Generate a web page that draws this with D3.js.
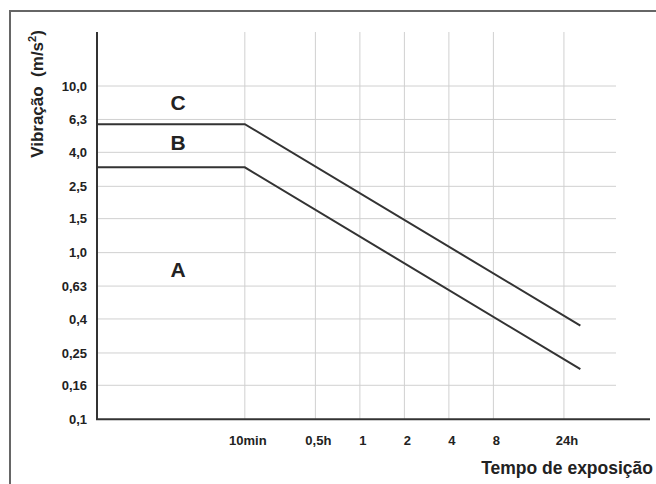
<!DOCTYPE html>
<html>
<head>
<meta charset="utf-8">
<script src="https://cdn.jsdelivr.net/npm/d3@7"></script>
<style>
  body { margin: 0; background: #fff; }
  svg text { font-family: "Liberation Sans", Arial, sans-serif; font-weight: bold; fill: #222; }
</style>
</head>
<body>
<svg width="656" height="484"></svg>
<script>
// tick values (hours) and their labels
const timeTicks = [1 / 6, 0.5, 1, 2, 4, 8, 24];
const timeLabels = ["10min", "0,5h", "1", "2", "4", "8", "24h"];

// vibration ticks (m/s²), evenly spaced on a log axis
const vibTicks = [0.1, 0.16, 0.25, 0.4, 0.63, 1.0, 1.6, 2.5, 4.0, 6.3, 10.0];
const vibLabels = ["0,1", "0,16", "0,25", "0,4", "0,63", "1,0", "1,5", "2,5", "4,0", "6,3", "10,0"];

// limit lines: time (h) -> vibration (m/s²)
const limitTimes = [1 / 60, 1 / 6, 31];
const upperLimit = [5.9, 5.9, 0.365];
const lowerLimit = [3.25, 3.25, 0.2];

// zone labels
const zoneNames = ["C", "B", "A"];
const zoneTime = [0.059, 0.059, 0.059];
const zoneVib = [7.9, 4.55, 0.79];

const svg = d3.select("svg");

// outer frame (runs off the right and bottom edge)
svg.append("rect")
    .attr("x", 10).attr("y", 11)
    .attr("width", 700).attr("height", 500)
    .attr("fill", "none")
    .attr("stroke", "#666")
    .attr("stroke-width", 2);

const plotLeft = 97, plotRight = 616, plotTop = 32, plotBottom = 419.3, yTop = 86;

const x = d3.scaleLog().domain([1 / 60, 54]).range([plotLeft, plotRight]);
const y = d3.scaleLog().domain([0.1, 10]).range([plotBottom, yTop]);

// grid
svg.append("g")
    .selectAll("line")
    .data(vibTicks.slice(1))
  .enter().append("line")
    .attr("x1", plotLeft).attr("x2", plotRight)
    .attr("y1", d => y(d)).attr("y2", d => y(d))
    .attr("stroke", "#d0d0d0")
    .attr("stroke-width", 1);

svg.append("g")
    .selectAll("line")
    .data(timeTicks)
  .enter().append("line")
    .attr("x1", d => x(d)).attr("x2", d => x(d))
    .attr("y1", plotTop).attr("y2", plotBottom)
    .attr("stroke", "#d0d0d0")
    .attr("stroke-width", 1);

// axes lines
svg.append("line")
    .attr("x1", plotLeft).attr("x2", plotLeft)
    .attr("y1", plotTop).attr("y2", plotBottom)
    .attr("stroke", "#333").attr("stroke-width", 2);
svg.append("line")
    .attr("x1", plotLeft - 1).attr("x2", 650)
    .attr("y1", plotBottom).attr("y2", plotBottom)
    .attr("stroke", "#333").attr("stroke-width", 2);

// tick labels
svg.append("g")
    .selectAll("text")
    .data(vibTicks)
  .enter().append("text")
    .attr("x", 87)
    .attr("y", d => y(d))
    .attr("dy", "0.35em")
    .attr("text-anchor", "end")
    .attr("font-size", 13)
    .text((d, i) => vibLabels[i]);

svg.append("g")
    .selectAll("text")
    .data(timeTicks)
  .enter().append("text")
    .attr("x", d => x(d) + 3)
    .attr("y", 445)
    .attr("text-anchor", "middle")
    .attr("font-size", 13)
    .text((d, i) => timeLabels[i]);

// limit lines
const line = d3.line()
    .x(d => x(d[0]))
    .y(d => y(d[1]));

[upperLimit, lowerLimit].forEach(vals => {
    svg.append("path")
        .datum(limitTimes.map((t, i) => [t, vals[i]]))
        .attr("d", line)
        .attr("fill", "none")
        .attr("stroke", "#333")
        .attr("stroke-width", 2);
});

// zone letters
svg.append("g")
    .selectAll("text")
    .data(zoneNames)
  .enter().append("text")
    .attr("x", (d, i) => x(zoneTime[i]))
    .attr("y", (d, i) => y(zoneVib[i]))
    .attr("dy", "0.35em")
    .attr("text-anchor", "middle")
    .attr("font-size", 21)
    .text(d => d);

// axis titles
svg.append("text")
    .attr("x", 653)
    .attr("y", 474)
    .attr("text-anchor", "end")
    .attr("font-size", 17.5)
    .text("Tempo de exposição");

const yt = svg.append("text")
    .attr("transform", "translate(43,94) rotate(-90)")
    .attr("text-anchor", "middle")
    .attr("font-size", 17);
yt.append("tspan").text("Vibração\u00a0\u00a0(m/s");
yt.append("tspan").attr("font-size", 11).attr("dy", -7).text("2");
yt.append("tspan").attr("dy", 7).text(")");
</script>
</body>
</html>
